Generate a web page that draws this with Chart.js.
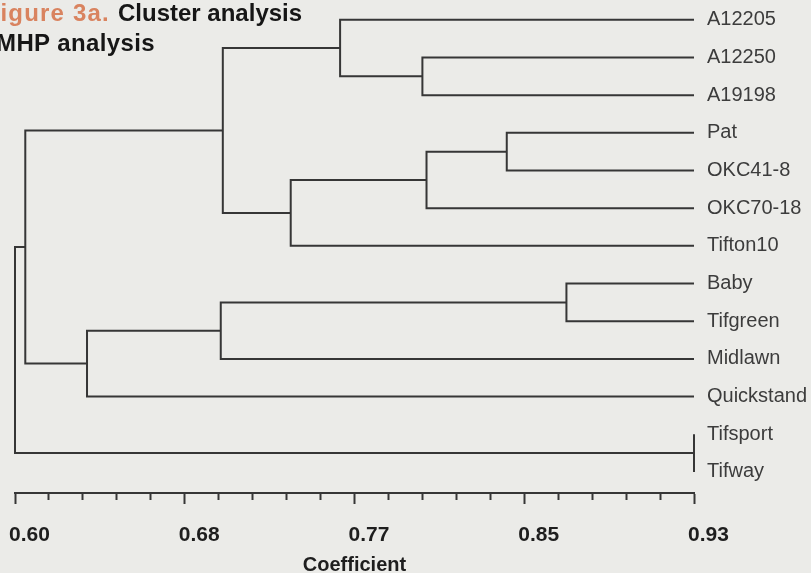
<!DOCTYPE html>
<html>
<head>
<meta charset="utf-8">
<title>Figure 3a. Cluster analysis</title>
<script src="https://cdn.jsdelivr.net/npm/chart.js@4.4.1/dist/chart.umd.min.js"></script>
<style>
    html, body { margin: 0; padding: 0; background: #ebebe8; }
    #wrap { position: relative; width: 811px; height: 573px; overflow: hidden; }
    #chart { position: absolute; left: 0; top: 0; }
    .title { position: absolute; font-family: "Liberation Sans", Arial, sans-serif; font-weight: bold;
             font-size: 24px; line-height: 1; color: #161616; white-space: nowrap; }
    .fig { color: #d9835f; letter-spacing: 1.2px; }
</style>
</head>
<body>
<div id="wrap">
    <canvas id="chart" width="811" height="573"></canvas>
    <div class="title fig" style="right: 701px; top: 1px;">Figure 3a.</div>
    <div class="title" style="left: 118px; top: 1px;">Cluster analysis</div>
    <div class="title" style="left: -4px; top: 31px; letter-spacing: 0.4px;">MHP analysis</div>
</div>
<script>
// leaves, top to bottom
const leaves = ['A12205', 'A12250', 'A19198', 'Pat', 'OKC41-8', 'OKC70-18', 'Tifton10',
                'Baby', 'Tifgreen', 'Midlawn', 'Quickstand', 'Tifsport', 'Tifway'];

// merges: ids 0-12 are the leaves, each merge gets the next id (13, 14, ...)
const mergeLeft  = [1, 0, 3, 15, 16, 14, 7, 19, 20, 18, 11, 22];
const mergeRight = [2, 13, 4, 5, 6, 17, 8, 9, 10, 21, 12, 23];
const mergeCoef  = [0.798, 0.758, 0.839, 0.800, 0.734, 0.701, 0.868, 0.700, 0.635, 0.605, 0.93, 0.60];

const tickLabels = ['0.60', '0.68', '0.77', '0.85', '0.93'];
const xMin = 0.60, xMax = 0.93;

// build the U-shaped links
const nodeY = leaves.map((_, i) => i);
const nodeH = leaves.map(() => xMax);
const links = [];
mergeLeft.forEach((l, i) => {
    const r = mergeRight[i], h = mergeCoef[i];
    links.push([
        { x: nodeH[l], y: nodeY[l] },
        { x: h, y: nodeY[l] },
        { x: h, y: nodeY[r] },
        { x: nodeH[r], y: nodeY[r] }
    ]);
    nodeY.push((nodeY[l] + nodeY[r]) / 2);
    nodeH.push(h);
});

const lineColor = '#363636';

new Chart(document.getElementById('chart'), {
    type: 'scatter',
    data: {
        datasets: links.map(pts => ({
            data: pts,
            showLine: true,
            clip: false,
            borderColor: lineColor,
            borderWidth: 2,
            borderJoinStyle: 'miter',
            pointRadius: 0,
            tension: 0
        }))
    },
    options: {
        responsive: false,
        animation: false,
        layout: { padding: { left: 15, top: 1, right: 0, bottom: 0 } },
        plugins: { legend: { display: false }, tooltip: { enabled: false } },
        scales: {
            x: {
                type: 'linear',
                position: 'bottom',
                min: xMin,
                max: xMax,
                afterBuildTicks: s => {
                    const n = (tickLabels.length - 1) * 5;
                    s.ticks = Array.from({ length: n + 1 }, (_, i) => ({ value: xMin + (xMax - xMin) * i / n }));
                },
                afterFit: s => { s.height = 80; s.paddingLeft = 0; s.paddingRight = 0; },
                grid: {
                    drawOnChartArea: false,
                    drawTicks: true,
                    tickLength: 11,
                    tickWidth: 2,
                    tickColor: lineColor,
                    tickBorderDash: c => (c.index % 5 === 0 ? [] : [6, 40])
                },
                border: { display: true, color: lineColor, width: 2 },
                ticks: {
                    autoSkip: false,
                    maxRotation: 0,
                    align: 'start',
                    labelOffset: -6,
                    padding: 19,
                    color: '#1e1e1e',
                    font: { family: '"Liberation Sans", Arial, sans-serif', size: 21, weight: 'bold' },
                    callback: (v, i) => (i % 5 === 0 ? tickLabels[i / 5] : '')
                },
                title: {
                    display: true,
                    text: 'Coefficient',
                    color: '#1e1e1e',
                    font: { family: '"Liberation Sans", Arial, sans-serif', size: 20, weight: 'bold', lineHeight: 1 },
                    padding: { top: 0, bottom: -2 }
                }
            },
            y: {
                type: 'linear',
                position: 'right',
                reverse: true,
                min: -0.5,
                max: 12.56,
                afterBuildTicks: s => { s.ticks = leaves.map((_, i) => ({ value: i })); },
                afterFit: s => { s.width = 117; s.paddingTop = 0; s.paddingBottom = 0; },
                grid: { display: false, drawTicks: false },
                border: { display: false },
                ticks: {
                    autoSkip: false,
                    padding: 13,
                    color: '#3c3c3c',
                    font: { family: '"Liberation Sans", Arial, sans-serif', size: 20 },
                    callback: v => leaves[v]
                }
            }
        }
    }
});
</script>
</body>
</html>
